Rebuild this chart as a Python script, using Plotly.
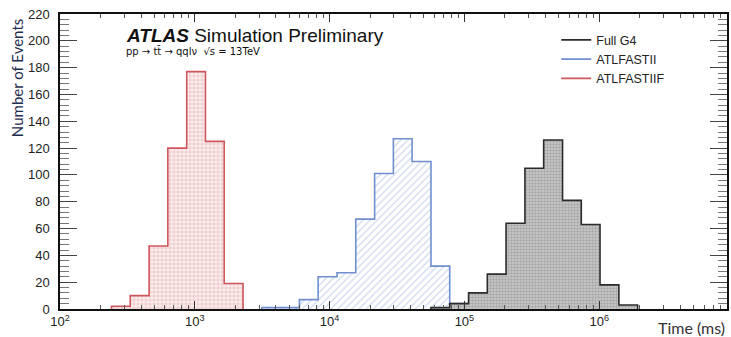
import plotly.graph_objects as go

# ---- data ----
# log10(time / ms) bin edges (28 bins)
bin_edges_log10 = [2.382, 2.521, 2.661, 2.800, 2.940, 3.079, 3.218, 3.358, 3.497, 3.637,
                   3.776, 3.915, 4.055, 4.194, 4.334, 4.473, 4.612, 4.752, 4.891, 5.031,
                   5.170, 5.309, 5.449, 5.588, 5.728, 5.867, 6.006, 6.146, 6.285]
full_g4 =     [0, 0, 0, 0, 0, 0, 0, 0, 0, 0, 0, 0, 0, 0, 0, 0, 0, 1, 4, 12, 26, 64, 105, 126, 81, 63, 18, 3]
atlfastii =   [0, 0, 0, 0, 0, 0, 0, 0, 1, 1, 7, 24, 27, 67, 101, 127, 110, 32, 4, 2, 0, 0, 0, 0, 0, 0, 0, 0]
atlfastiif =  [2, 10, 47, 120, 177, 125, 19, 0, 0, 0, 0, 0, 0, 0, 0, 0, 0, 0, 0, 0, 0, 0, 0, 0, 0, 0, 0, 0]
series_names = ["Full G4", "ATLFASTII", "ATLFASTIIF"]
x_tick_vals = [1e2, 1e3, 1e4, 1e5, 1e6]
x_tick_text = ["10<sup>2</sup>", "10<sup>3</sup>", "10<sup>4</sup>", "10<sup>5</sup>", "10<sup>6</sup>"]
x_decades = [1e2, 1e3, 1e4, 1e5, 1e6]
x_minor_digits = [2, 3, 4, 5, 6, 7, 8, 9]

edges = [10 ** e for e in bin_edges_log10]
x_minor_vals = [d * m for d in x_decades for m in x_minor_digits]


def step_outline(counts):
    nz = [i for i, c in enumerate(counts) if c > 0]
    lo, hi = nz[0], nz[-1]
    xs, ys = [edges[lo]], [0]
    for i in range(lo, hi + 1):
        xs += [edges[i], edges[i + 1]]
        ys += [counts[i], counts[i]]
    xs.append(edges[hi + 1])
    ys.append(0)
    return xs, ys


styles = {
    "Full G4": dict(line="#2b2b2b", pat=dict(shape=".", fgcolor="#808080", bgcolor="#cdcdcd", size=3, solidity=0.5)),
    "ATLFASTII": dict(line="#6f8fcf", pat=dict(shape="/", fgcolor="#9cb1da", bgcolor="#ffffff", size=5, solidity=0.25)),
    "ATLFASTIIF": dict(line="#cf565c", pat=dict(shape="+", fgcolor="#dc8388", bgcolor="#fbeeee", size=4, solidity=0.3)),
}

fig = go.Figure()
for name, counts in [("ATLFASTII", atlfastii), ("Full G4", full_g4), ("ATLFASTIIF", atlfastiif)]:
    xs, ys = step_outline(counts)
    st = styles[name]
    fig.add_trace(go.Scatter(x=xs, y=ys, mode="lines", fill="toself",
                             line=dict(color=st["line"], width=1.6),
                             fillpattern=st["pat"], showlegend=False, hoverinfo="skip"))

for name in series_names:
    fig.add_trace(go.Scatter(x=[None], y=[None], mode="lines", name=name,
                             line=dict(color=styles[name]["line"], width=1.6)))

font_main = "Liberation Sans, Arial, sans-serif"

fig.update_layout(
    width=731, height=337,
    margin=dict(l=60, r=2, t=14, b=28),
    paper_bgcolor="white", plot_bgcolor="white",
    font=dict(family=font_main, size=13, color="#222"),
    showlegend=True,
    legend=dict(x=0.744, y=0.962, xanchor="left", yanchor="top", bgcolor="rgba(0,0,0,0)",
                font=dict(size=12.5, color="#222"), tracegroupgap=0, itemwidth=30),
    xaxis=dict(type="log", range=[2, 6.948], showline=True, linecolor="#111", linewidth=1.5,
               mirror="allticks", ticks="inside", ticklen=8, tickcolor="#333",
               tickvals=x_tick_vals, ticktext=x_tick_text, showgrid=False, zeroline=False,
               minor=dict(ticks="inside", ticklen=4, tickcolor="#555", showgrid=False,
                          tickvals=x_minor_vals),
               tickfont=dict(size=13)),
    yaxis=dict(range=[0, 220], showline=True, linecolor="#111", linewidth=1.5,
               mirror="allticks", ticks="inside", ticklen=17, tickcolor="#444",
               dtick=20, showgrid=False, zeroline=False, ticklabelstandoff=6,
               minor=dict(ticks="inside", ticklen=9, dtick=4, tickcolor="#777", showgrid=False),
               tickfont=dict(size=13)),
    annotations=[
        dict(text="<b><i>ATLAS</i></b> Simulation Preliminary", xref="paper", yref="paper",
             x=(124 - 60) / 669, y=(309 - 35) / 295, xanchor="left", yanchor="middle",
             showarrow=False, font=dict(size=19, color="#111", family=font_main)),
        dict(text="pp \u2192 tt\u0304 \u2192 qql\u03bd  \u221as = 13TeV", xref="paper", yref="paper",
             x=(124 - 60) / 669, y=(309 - 51) / 295, xanchor="left", yanchor="middle",
             showarrow=False, font=dict(size=10, color="#111", family="DejaVu Sans, sans-serif")),
        dict(text="Number of Events", xref="paper", yref="paper", textangle=-90,
             x=(17 - 60) / 669, y=(309 - 78) / 295, xanchor="center", yanchor="middle",
             showarrow=False, font=dict(size=15, color="#1f2d4f", family="Lato, sans-serif")),
        dict(text="Time (ms)", xref="paper", yref="paper",
             x=(729 - 60) / 669, y=(309 - 327) / 295, xanchor="right", yanchor="middle",
             showarrow=False, font=dict(size=16, color="#333", family="Lato, sans-serif")),
    ],
)

fig.write_html("out.html")
